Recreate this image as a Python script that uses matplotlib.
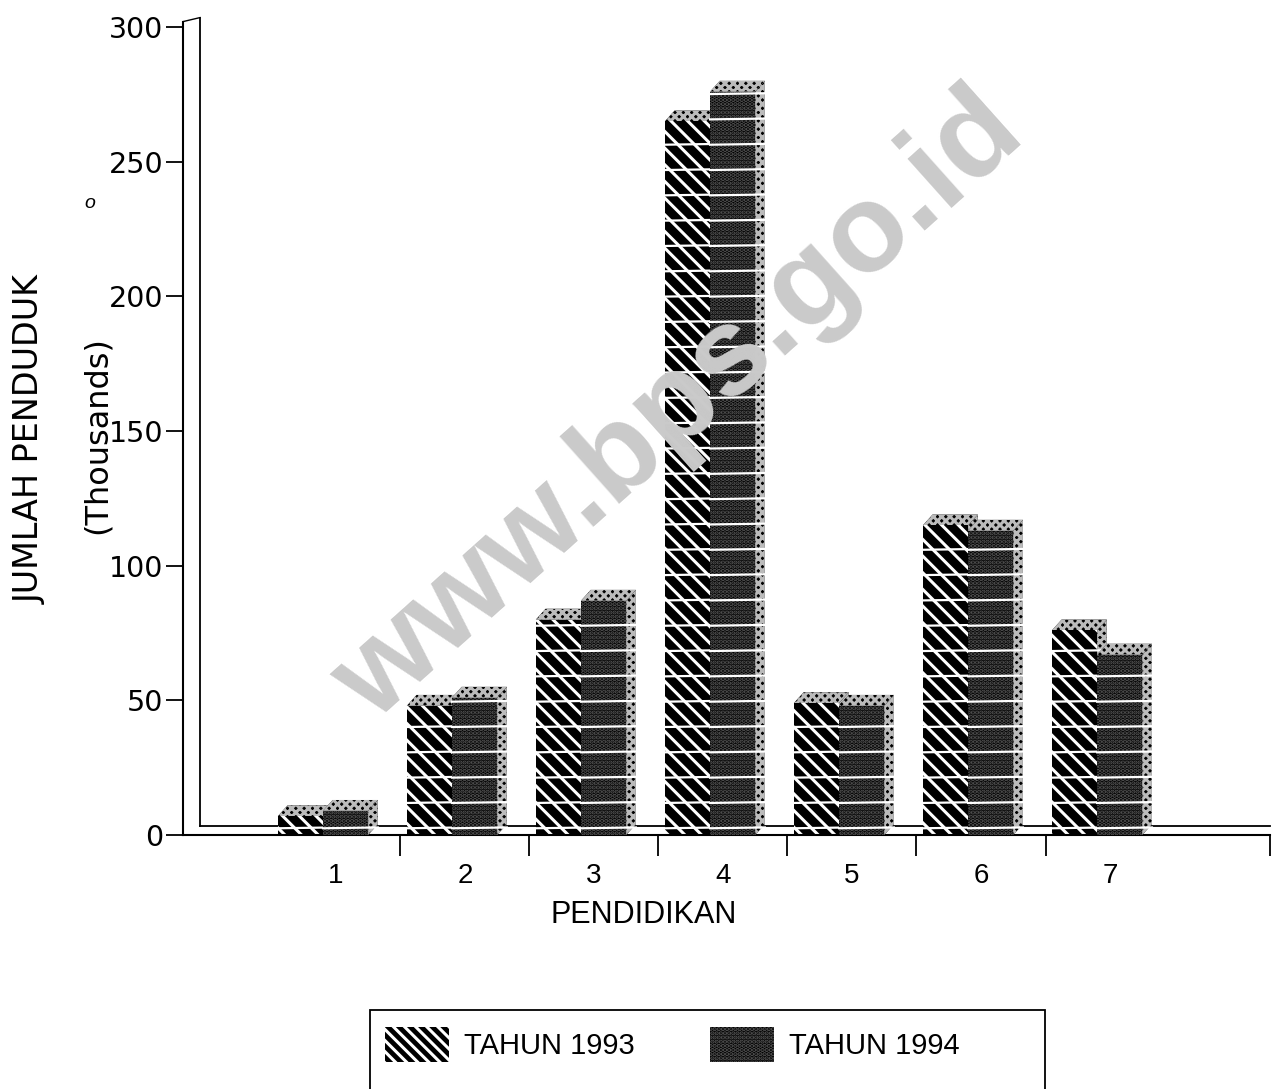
import matplotlib.pyplot as plt
import matplotlib.patches as mpatches
from matplotlib.patches import Polygon, Rectangle
import numpy as np

plt.rcParams['font.family'] = ['Liberation Sans', 'DejaVu Sans']
plt.rcParams['hatch.linewidth'] = 2.2

categories = ["1", "2", "3", "4", "5", "6", "7"]
tahun_1993 = [7, 48, 80, 265, 49, 115, 76]
tahun_1994 = [9, 51, 87, 276, 48, 113, 67]
series_labels = ["TAHUN 1993", "TAHUN 1994"]

W, H = 1275, 1089
fig = plt.figure(figsize=(12.75, 10.89), dpi=100)
ax = fig.add_axes([183 / W, 1 - 835 / H, (1270 - 183) / W, (835 - 27) / H])

x = np.arange(1, len(categories) + 1)
w = 0.35
dx, dy = 0.075, 4.0


def draw_bar(x0, h, front_hatch, front_hc, z):
	# side and top faces (3D effect)
	side = Polygon([(x0 + w, 0), (x0 + w + dx, dy), (x0 + w + dx, h + dy), (x0 + w, h)],
				   closed=True, facecolor='black', edgecolor='#bbbbbb', hatch='xxxx', lw=0, zorder=z)
	top = Polygon([(x0, h), (x0 + dx, h + dy), (x0 + w + dx, h + dy), (x0 + w, h)],
				  closed=True, facecolor='black', edgecolor='#bbbbbb', hatch='xxxx', lw=0, zorder=z)
	ax.add_patch(side)
	ax.add_patch(top)
	ax.bar(x0, h, width=w, align='edge', color='black', edgecolor=front_hc,
		   hatch=front_hatch, linewidth=0, zorder=z)
	# white stripes across the bar
	for yy in np.arange(2.5, h, 9.4):
		ax.plot([x0, x0 + w + dx], [yy, yy + 0.3], color='white', lw=1.6, zorder=z + 0.1)


for i in range(len(categories)):
	draw_bar(x[i] - w, tahun_1993[i], '\\\\', 'white', 2)
	draw_bar(x[i], tahun_1994[i], '....', '#555555', 3)

ax.set_xlim(-0.085, 8.34)
ax.set_ylim(0, 300)

for s in ['top', 'right']:
	ax.spines[s].set_visible(False)
ax.spines['left'].set_linewidth(1.5)
ax.spines['bottom'].set_linewidth(1.5)
ax.spines['left'].set_bounds(0, 302)

# back wall / floor lines
ax.plot([0.047, 0.047], [3.2, 303.5], color='black', lw=1.3, clip_on=False, zorder=1)
ax.plot([0.047, 8.34], [3.2, 3.2], color='black', lw=1.3, clip_on=False, zorder=1)
ax.plot([-0.085, 0.047], [302, 303.5], color='black', lw=1.0, clip_on=False, zorder=1)

ax.set_yticks([0, 50, 100, 150, 200, 250, 300])
ax.set_yticklabels(["0", "50", "100", "150", "200", "250", "300"], family='DejaVu Sans')
ax.tick_params(axis='y', direction='out', length=12, width=1.3, labelsize=20.5, pad=2)
ax.set_xticks([x_ + 0.6 for x_ in x[:-1]] + [8.34])
ax.set_xticks(x + 0.1, minor=True)
ax.set_xticklabels([])
ax.set_xticklabels(categories, minor=True)
ax.tick_params(axis='x', which='major', direction='out', length=15, width=1.3)
ax.tick_params(axis='x', which='minor', length=0, labelsize=20, pad=20)

fig.text(644 / W, 1 - 915 / H, "PENDIDIKAN", fontsize=22, ha='center', va='center')
fig.text(30 / W, 1 - 440 / H, "JUMLAH PENDUDUK", rotation=90, fontsize=24, family='DejaVu Sans',
		 ha='center', va='center')
fig.text(97 / W, 1 - 435 / H, "(Thousands)", rotation=90, fontsize=23, family='DejaVu Sans',
		 ha='center', va='center')
fig.text(90 / W, 1 - 203 / H, "o", fontsize=14, style='italic', ha='center', va='center')

# watermark
fig.text(680 / W, 1 - 407 / H, "www.bps.go.id", fontsize=90, fontweight='bold',
		 color='#cacaca', rotation=41.8, ha='center', va='center', zorder=10)

handles = [mpatches.Patch(facecolor='black', edgecolor='white', hatch='\\\\\\', lw=0),
		   mpatches.Patch(facecolor='black', edgecolor='#555555', hatch='....', lw=0)]
leg = fig.legend(handles, series_labels, loc='upper left', bbox_to_anchor=(379 / W, 1 - 1021 / H),
				 borderaxespad=0, ncol=2, fontsize=21, frameon=False, handlelength=2.2, handleheight=1.5,
				 columnspacing=2.6, borderpad=0.2, handletextpad=0.5)
fig.patches.append(Rectangle((370 / W, -0.02), (1045 - 370) / W, (H - 1010) / H + 0.02,
							 transform=fig.transFigure, fill=False, edgecolor='black', lw=1.3))

plt.savefig("out.png", dpi=100)
